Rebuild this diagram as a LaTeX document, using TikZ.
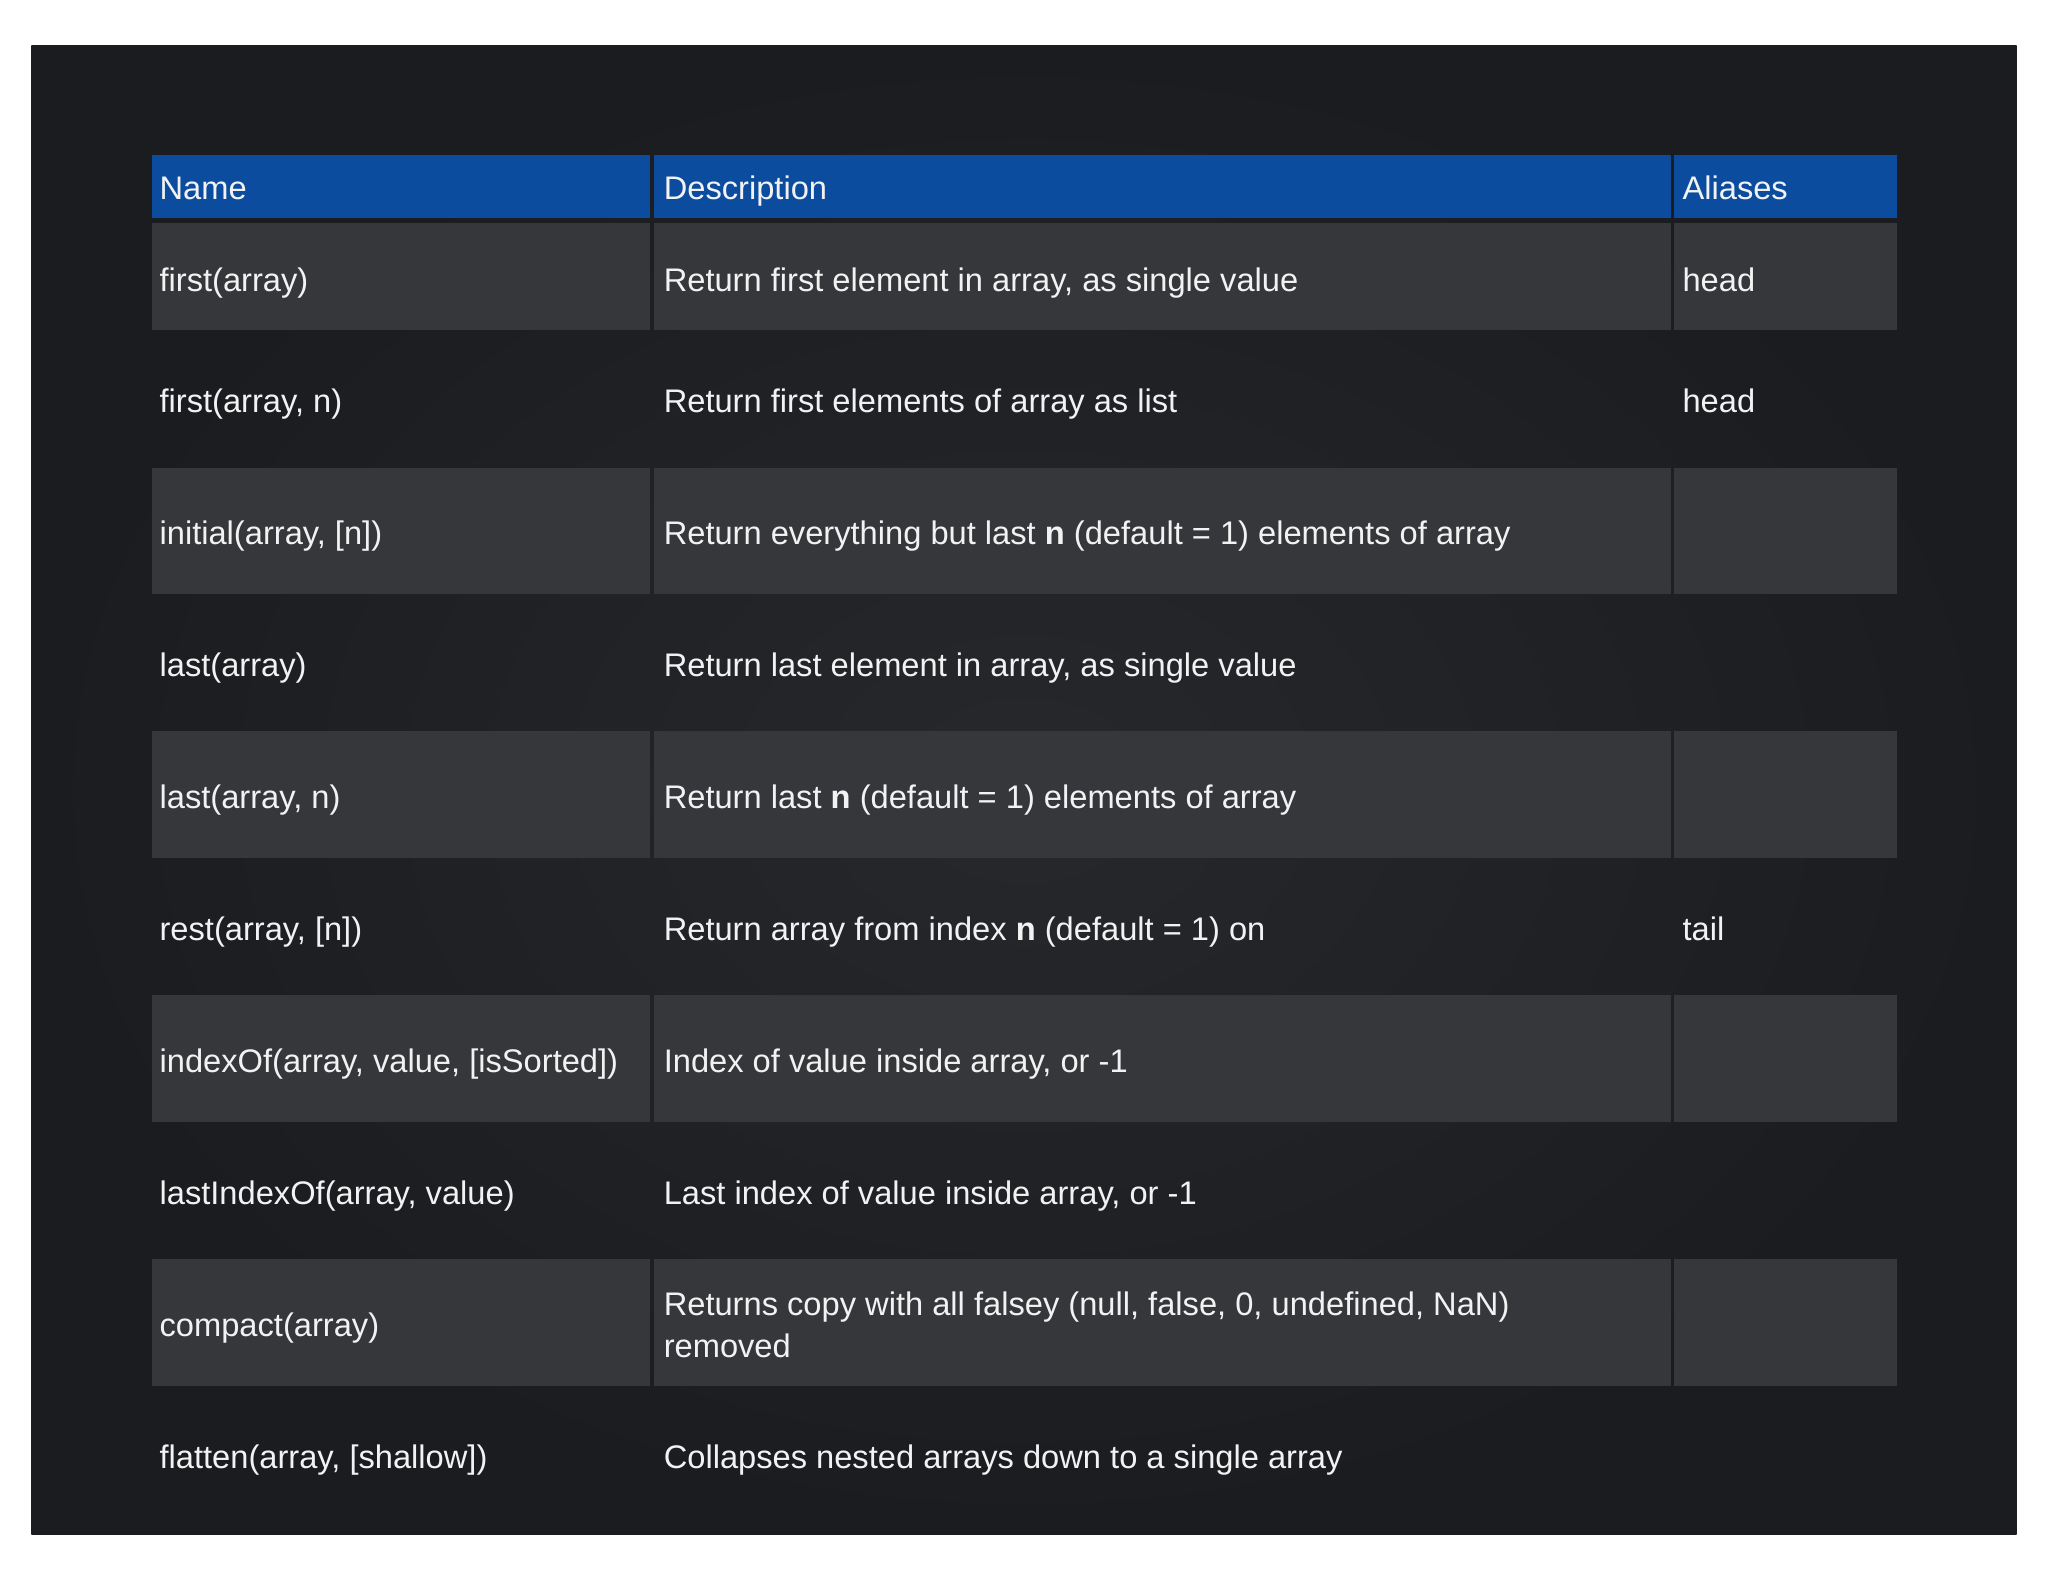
\documentclass[tikz,border=0pt]{standalone}
\usepackage{fontspec}
\setmainfont{Liberation Sans}
\begin{document}
\begin{tikzpicture}[x=1pt,y=-1pt,
  txt/.style={anchor=base west,text=white!90!gray,font=\fontsize{25}{32}\selectfont,inner sep=0pt,align=left},
  hdr/.style={fill=hdrblue}]
\definecolor{bg}{HTML}{1A1C20}
\definecolor{bgin}{HTML}{26282C}
\definecolor{cellgray}{HTML}{36373B}
\definecolor{hdrblue}{HTML}{0B4C9E}
\useasboundingbox (0,0) rectangle (1568,1211);
\fill[white] (0,0) rectangle (1568,1211);
\shade[inner color=bgin,outer color=bg] (24,35) rectangle (1544,1175);
\foreach \a/\b in {116/498,501/1279,1282/1452}{
  \fill[hdrblue] (\a,119) rectangle (\b,167);}
\foreach \t/\bb in {171/253,358/455,560/657,762/859,964/1061}{
  \foreach \a/\b in {116/498,501/1279,1282/1452}{
    \fill[cellgray] (\a,\t) rectangle (\b,\bb);}}
\node[txt] (h1) at (122,153) {Name};
\node[txt] (h2) at (508,153) {Description};
\node[txt] (h3) at (1288,153) {Aliases};
\foreach \y/\n/\d/\al [count=\i] in {
 223/{first(array)}/{Return first element in array, as single value}/head,
 316/{first(array, n)}/{Return first elements of array as list}/head,
 417/{initial(array, [n])}/{Return everything but last \textbf{n} (default = 1) elements of array}/{},
 518/{last(array)}/{Return last element in array, as single value}/{},
 619/{last(array, n)}/{Return last \textbf{n} (default = 1) elements of array}/{},
 720/{rest(array, [n])}/{Return array from index \textbf{n} (default = 1) on}/tail,
 821/{indexOf(array, value, [isSorted])}/{Index of value inside array, or -1}/{},
 922/{lastIndexOf(array, value)}/{Last index of value inside array, or -1}/{},
 1023/{compact(array)}/{}/{},
 1124/{flatten(array, [shallow])}/{Collapses nested arrays down to a single array}/{}}{
  \node[txt] (n\i) at (122,\y) {\n};
  \node[txt] (d\i) at (508,\y) {\d};
  \node[txt] (a\i) at (1288,\y) {\al};
}
\node[txt] (d9b) at (508,1039) {Returns copy with all falsey (null, false, 0, undefined, NaN)\\removed};
\end{tikzpicture}
\end{document}
